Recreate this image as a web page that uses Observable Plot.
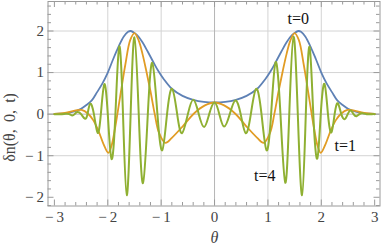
<!DOCTYPE html>
<html>
<head>
<meta charset="utf-8">
<script src="https://cdn.jsdelivr.net/npm/d3@7"></script>
<script src="https://cdn.jsdelivr.net/npm/@observablehq/plot@0.6"></script>
<style>
  html, body { margin: 0; padding: 0; background: #fff; }
  #chart svg { display: block; }
</style>
</head>
<body>
<div id="chart"></div>
<script>
// ---- data ----
// t = 0 (blue)
const thetaT0 = [-3.0,-2.9,-2.8,-2.7,-2.6,-2.5,-2.4,-2.3,-2.2,-2.1,-2.0,-1.9,-1.8,-1.7,-1.62,-1.575,-1.52,-1.45,-1.35,-1.25,-1.15,-1.05,-0.95,-0.8,-0.6,-0.4,-0.2,0,
                 0.2,0.4,0.6,0.8,0.95,1.05,1.15,1.25,1.35,1.45,1.52,1.575,1.62,1.7,1.8,1.9,2.0,2.1,2.2,2.3,2.4,2.5,2.6,2.7,2.8,2.9,3.0];
const valueT0 = [0.005,0.01,0.02,0.04,0.075,0.13,0.22,0.33,0.53,0.74,1.0,1.32,1.62,1.87,1.98,2.0,1.97,1.90,1.73,1.50,1.26,1.03,0.84,0.61,0.44,0.345,0.295,0.28,
                 0.295,0.345,0.44,0.61,0.84,1.03,1.26,1.50,1.73,1.90,1.97,2.0,1.98,1.87,1.62,1.32,1.0,0.74,0.53,0.33,0.22,0.13,0.075,0.04,0.02,0.01,0.005];

// t = 1 (orange)
const thetaT1 = [-3.0,-2.8,-2.6,-2.49,-2.37,-2.27,-2.175,-2.08,-1.99,-1.93,-1.86,-1.77,-1.67,-1.58,-1.50,-1.42,-1.35,-1.28,-1.2,-1.12,-1.04,-0.92,-0.80,-0.58,-0.39,-0.18,0,
                 0.18,0.39,0.58,0.80,0.92,1.04,1.12,1.2,1.28,1.35,1.42,1.50,1.58,1.67,1.77,1.86,1.93,1.99,2.08,2.175,2.27,2.37,2.49,2.6,2.8,3.0];
const valueT1 = [0.005,0.03,0.09,0.10,0.01,-0.15,-0.40,-0.72,-0.93,-0.76,-0.31,0.41,1.2,1.78,1.95,1.77,1.45,1.05,0.55,0.0,-0.45,-0.69,-0.57,-0.27,0.01,0.21,0.28,
                 0.21,0.01,-0.27,-0.57,-0.69,-0.45,0.0,0.55,1.05,1.45,1.77,1.95,1.78,1.2,0.41,-0.31,-0.76,-0.93,-0.72,-0.40,-0.15,0.01,0.10,0.09,0.03,0.005];

// t = 4 (green)
const thetaT4 = [-3.0,-2.9,-2.82,-2.77,-2.72,-2.67,-2.62,-2.57,-2.50,-2.43,-2.38,-2.33,-2.26,-2.19,-2.13,-2.065,-2.0,-1.93,-1.857,-1.785,-1.715,-1.645,-1.572,-1.50,-1.42,-1.34,-1.25,-1.165,-1.07,-0.98,-0.89,-0.795,-0.70,-0.61,-0.50,-0.395,-0.295,-0.195,-0.10,0,
                 0.09,0.18,0.285,0.39,0.49,0.585,0.68,0.78,0.88,0.975,1.06,1.145,1.235,1.325,1.40,1.48,1.56,1.64,1.71,1.78,1.85,1.925,1.99,2.06,2.125,2.19,2.25,2.31,2.375,2.44,2.495,2.55,2.605,2.66,2.715,2.77,2.85,2.95,3.0];
const valueT4 = [0,0,0.005,0.01,0,-0.03,0,0.05,0,-0.11,0,0.25,0,-0.45,0,0.72,0,-1.08,0,1.63,0,-1.95,0,1.85,0,-1.66,0,1.23,0,-0.87,0,0.61,0,-0.46,0,0.345,0,-0.31,0,0.28,
                 0,-0.30,0,0.33,0,-0.46,0,0.61,0,-0.87,0,1.25,0,-1.65,0,1.86,0,-1.95,0,1.62,0,-1.07,0,0.73,0,-0.44,0,0.26,0,-0.12,0,0.09,0,-0.05,0,0.02,0,0,0];

// tick values
const xTicks = [-3,-2,-1,0,1,2,3];
const yTicks = [-2,-1,0,1,2];
const xGrid = [-2,-1,1,2];
const yGrid = [-1,1,2];

// curve labels
const labelText = ["t=0","t=1","t=4"];
const labelTheta = [1.57, 2.45, 0.94];
const labelValue = [2.29, -0.76, -1.48];

// ---- build tables ----
const zip = (xs, ys) => xs.map((x, i) => ({theta: x, v: ys[i]}));
const s0 = zip(thetaT0, valueT0);
const s1 = zip(thetaT1, valueT1);
const s4 = zip(thetaT4, valueT4);
const labels = labelText.map((t, i) => ({t, theta: labelTheta[i], v: labelValue[i]}));

const W = 382, H = 250;
const mL = 47.5, mR = 2.5, mT = 1, mB = 44.5;
const fw = W - mL - mR, fh = H - mT - mB;
const xDomain = [-3.12, 3.1], yDomain = [-2.21, 2.71];

const minorX = d3.range(-3.0, 3.01, 0.2).map(v => Math.round(v * 10) / 10).filter(v => Math.abs(v - Math.round(v)) > 1e-6);
const minorY = d3.range(-2.2, 2.71, 0.2).map(v => Math.round(v * 10) / 10).filter(v => Math.abs(v - Math.round(v)) > 1e-6);

const fmt = d => d < 0 ? "\u2212\u2009" + Math.abs(d) : String(d);
const serif = "'Liberation Serif', 'DejaVu Serif', serif";
const tickColor = "#9a9a9a";
const majorLen = 6, minorLen = 3.5;

const colors = {t0: "#5e81b5", t1: "#e19c24", t4: "#8fb032"};

const chart = Plot.plot({
  width: W, height: H,
  marginLeft: mL, marginRight: mR, marginTop: mT, marginBottom: mB,
  style: {fontFamily: serif, background: "#fff", overflow: "visible"},
  x: {domain: xDomain, axis: null},
  y: {domain: yDomain, axis: null},
  marks: [
    // grid
    Plot.ruleX(xGrid, {x: d => d, stroke: "#d4d4d4", strokeWidth: 1}),
    Plot.ruleY(yGrid, {y: d => d, stroke: "#d4d4d4", strokeWidth: 1}),
    Plot.ruleX([0], {x: d => d, stroke: "#b5b5b5", strokeWidth: 1}),
    Plot.ruleY([0], {y: d => d, stroke: "#b5b5b5", strokeWidth: 1}),
    // ticks (inward, all four sides)
    Plot.ruleX(xTicks, {x: d => d, insetTop: fh - majorLen, stroke: tickColor}),
    Plot.ruleX(xTicks, {x: d => d, insetBottom: fh - majorLen, stroke: tickColor}),
    Plot.ruleX(minorX, {x: d => d, insetTop: fh - minorLen, stroke: tickColor}),
    Plot.ruleX(minorX, {x: d => d, insetBottom: fh - minorLen, stroke: tickColor}),
    Plot.ruleY(yTicks, {y: d => d, insetRight: fw - majorLen, stroke: tickColor}),
    Plot.ruleY(yTicks, {y: d => d, insetLeft: fw - majorLen, stroke: tickColor}),
    Plot.ruleY(minorY, {y: d => d, insetRight: fw - minorLen, stroke: tickColor}),
    Plot.ruleY(minorY, {y: d => d, insetLeft: fw - minorLen, stroke: tickColor}),
    Plot.frame({stroke: tickColor, strokeWidth: 1}),
    // curves
    Plot.line(s0, {x: "theta", y: "v", stroke: colors.t0, strokeWidth: 1.8, curve: "catmull-rom"}),
    Plot.line(s1, {x: "theta", y: "v", stroke: colors.t1, strokeWidth: 1.8, curve: "catmull-rom"}),
    Plot.line(s4, {x: "theta", y: "v", stroke: colors.t4, strokeWidth: 2, curve: "natural"}),
    // tick labels
    Plot.text(xTicks, {x: d => d, frameAnchor: "bottom", dy: 11, text: fmt, fontSize: 15, fill: "#444", lineAnchor: "middle"}),
    Plot.text(yTicks, {y: d => d, frameAnchor: "left", dx: -4, text: fmt, fontSize: 15, fill: "#444", textAnchor: "end", lineAnchor: "middle"}),
    // axis labels
    Plot.text(["θ"], {x: 0, frameAnchor: "bottom", dy: 32, text: d => d, fontSize: 16, fontStyle: "italic", fill: "#444", lineAnchor: "middle"}),
    Plot.text(["δn(θ,\u2009 0,\u2009 t)"], {y: -0.32, frameAnchor: "left", dx: -38.5, text: d => d, fontSize: 16, fill: "#444", rotate: -90, lineAnchor: "middle", textAnchor: "middle"}),
    // curve labels
    Plot.text(labels, {x: "theta", y: "v", text: "t", fontSize: 16, fill: "#111", lineAnchor: "middle"})
  ]
});
document.getElementById("chart").appendChild(chart);
</script>
</body>
</html>
